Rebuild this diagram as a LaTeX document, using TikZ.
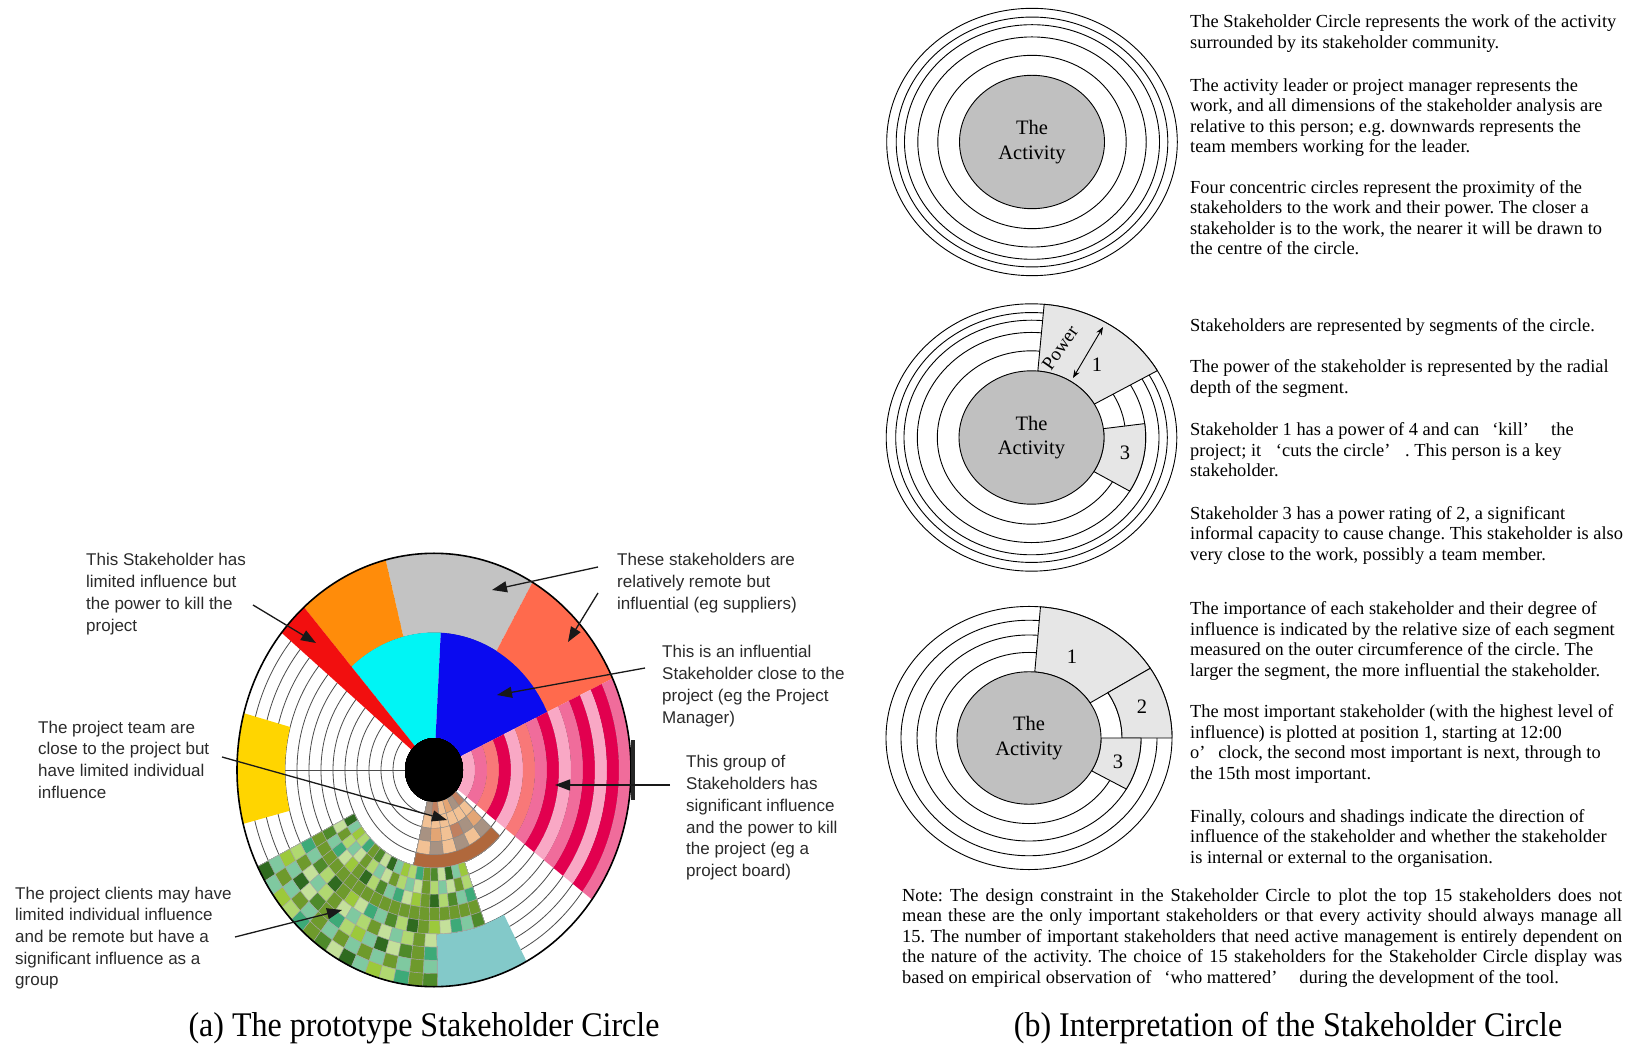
\documentclass[tikz,border=0pt]{standalone}
\usepackage{fontspec}
\usepackage{graphicx}
\setmainfont{Liberation Serif}
\newfontfamily\labelsans{Liberation Sans}
\usetikzlibrary{arrows.meta}

% wheel colours
\definecolor{wgray}{HTML}{C3C3C3}
\definecolor{worange}{HTML}{FF8C0A}
\definecolor{wred}{HTML}{F20F0F}
\definecolor{wcyan}{HTML}{00F5F5}
\definecolor{wblue}{HTML}{0A0AF0}
\definecolor{wcoral}{HTML}{FF6A4D}
\definecolor{wgold}{HTML}{FFD500}
\definecolor{wteal}{HTML}{83C9C9}
\definecolor{pkL}{HTML}{F9A8C5}
\definecolor{pkH}{HTML}{F06C9B}
\definecolor{pkS}{HTML}{F87878}
\definecolor{pkC}{HTML}{E2004F}
\definecolor{gr0}{HTML}{2F6B1F}
\definecolor{gr1}{HTML}{6E9A2C}
\definecolor{gr2}{HTML}{9CC93B}
\definecolor{gr3}{HTML}{C4E09A}
\definecolor{gr4}{HTML}{3DAA78}
\definecolor{gr5}{HTML}{7FC9A0}
\definecolor{gr6}{HTML}{4E8A2A}
\definecolor{gr7}{HTML}{B0D870}
\definecolor{br0}{HTML}{A89282}
\definecolor{br1}{HTML}{E3A574}
\definecolor{br2}{HTML}{F2C194}
\definecolor{br3}{HTML}{C08060}
\definecolor{brD}{HTML}{B0683C}
\definecolor{lbltext}{HTML}{2B2B2B}
\definecolor{segfill}{HTML}{E6E6E6}
\definecolor{actgray}{HTML}{C0C0C0}

% annular sector: options, start angle, end angle, inner radius, outer radius
\newcommand{\annsec}[5]{\path[#1] ({#2}:{#4}) arc[start angle={#2}, end angle={#3}, radius={#4}] -- ({#3}:{#5}) arc[start angle={#3}, end angle={#2}, radius={#5}] -- cycle;}
% stacked text lines, baseline at the first line
\newcommand{\lns}[1]{\begin{tabular}[t]{@{}l@{}}#1\end{tabular}}
% justified line of the note
\newcommand{\jl}[1]{\makebox[720pt][s]{#1}}

\begin{document}
\frenchspacing
\begin{tikzpicture}[x=1pt,y=1pt,
  lbl/.style={anchor=base west, inner sep=0pt, text=lbltext, font=\labelsans\fontsize{17}{21.7}\selectfont},
  para/.style={anchor=base west, inner sep=0pt, font=\fontsize{18.4}{20.5}\selectfont},
  callout/.style={draw=black!90, line width=1.3pt, -{Triangle[length=15pt,width=11pt]}},
  ringline/.style={draw=black!70, line width=0.8pt},
  ring/.style={draw=black, line width=0.9pt},
  seg/.style={fill=segfill, draw=black, line width=0.9pt},
  num/.style={inner sep=0pt, font=\fontsize{20.5}{24}\selectfont},
  actlabel/.style={align=center, inner sep=0pt, font=\fontsize{20.5}{24.5}\selectfont},
  caption/.style={inner sep=0pt, anchor=base, font=\fontsize{32}{36}\selectfont}
]
\useasboundingbox (0,0) rectangle (1633,1045);
\fill[white] (0,0) rectangle (1633,1045);

% ---------------- (a) prototype wheel ----------------
\begin{scope}[shift={(434,275)}, yscale=1.1]
  \fill[white] (0,0) circle[radius=197];
  \foreach \k in {1,...,13} \draw[ringline] (0,0) circle[radius={29+12*\k}];
  \draw[ringline] (180:29) -- (180:149);
  % solid segments
  \annsec{fill=wgray}{60}{104.2}{125}{197}
  \annsec{fill=worange}{104.2}{131.3}{125}{197}
  \annsec{fill=wcyan}{86.9}{131.3}{20}{125}
  \annsec{fill=wblue}{25}{86.9}{20}{125}
  \annsec{fill=wcoral}{25}{60}{125}{197}
  \annsec{fill=wred}{131.3}{140.7}{20}{197}
  \annsec{fill=wgold}{164.8}{194.4}{149}{197}
  \annsec{fill=wteal}{-89}{-62}{149}{197}
  % striped group
  \foreach \k/\tc in {0/pkL,1/pkH,2/pkS,3/pkC,4/pkL,5/pkS,6/pkH,7/pkC,8/pkL,9/pkH,10/pkC,11/pkL,12/pkC,13/pkH}
    \annsec{fill=\tc}{-36.7}{25}{29+12*\k}{41+12*\k}
  % brown tiled group
  \foreach \j in {0,...,3}
    \foreach \i in {0,...,5} {
      \pgfmathsetmacro\aa{-103.3+\i*61/6}
      \pgfmathsetmacro\ab{-103.3+(\i+1)*61/6}
      \pgfmathtruncatemacro\tn{mod(\i*3+\j*2+\i*\j,4)}
      \annsec{fill=br\tn, draw=black!45, line width=0.4pt}{\aa}{\ab}{29+12*\j}{41+12*\j}
    }
  \annsec{fill=brD, draw=black!45, line width=0.4pt}{-103.3}{-42.3}{77}{89}
  % green tiled group
  \foreach \j in {0,...,4}
    \foreach \i in {0,...,18} {
      \pgfmathsetmacro\aa{-153.5+\i*83.5/19}
      \pgfmathsetmacro\ab{-153.5+(\i+1)*83.5/19}
      \pgfmathtruncatemacro\tn{mod(\i*5+\j*3+\i*\j,8)}
      \annsec{fill=gr\tn, draw=black!35, line width=0.4pt}{\aa}{\ab}{89+12*\j}{101+12*\j}
    }
  \foreach \j in {5,...,8}
    \foreach \i in {0,...,14} {
      \pgfmathsetmacro\aa{-153.5+\i*64.5/15}
      \pgfmathsetmacro\ab{-153.5+(\i+1)*64.5/15}
      \pgfmathtruncatemacro\tn{mod(\i*5+\j*3+\i*\j,8)}
      \annsec{fill=gr\tn, draw=black!35, line width=0.4pt}{\aa}{\ab}{89+12*\j}{101+12*\j}
    }
  \fill[black] (0,0) circle[radius=29];
  \draw[black, line width=1.6pt] (0,0) circle[radius=197];
\end{scope}
\fill[black!85] (631,305) rectangle (634.5,245);

% callout texts
\node[lbl] (l1) at (86,479) {\lns{This Stakeholder has\\limited influence but\\the power to kill the\\project}};
\node[lbl] (l2) at (38,312) {\lns{The project team are\\close to the project but\\have limited individual\\influence}};
\node[lbl] (l3) at (15,146) {\lns{The project clients may have\\limited individual influence\\and be remote but have a\\significant influence as a\\group}};
\node[lbl] (r1) at (617,479) {\lns{These stakeholders are\\relatively remote but\\influential (eg suppliers)}};
\node[lbl] (r2) at (662,387) {\lns{This is an influential\\Stakeholder close to the\\project (eg the Project\\Manager)}};
\node[lbl] (r3) at (686,277) {\lns{This group of\\Stakeholders has\\significant influence\\and the power to kill\\the project (eg a\\project board)}};

% callout arrows
\coordinate (s1) at (253,440); \coordinate (t1) at (316,402);
\coordinate (s2) at (598,478); \coordinate (t2) at (492,455);
\coordinate (s3) at (598,452); \coordinate (t3) at (568,403);
\coordinate (s4) at (645,377); \coordinate (t4) at (497,350);
\coordinate (s5) at (670,260); \coordinate (t5) at (555,260);
\coordinate (s6) at (222,288); \coordinate (t6) at (447,225);
\coordinate (s7) at (235,108); \coordinate (t7) at (342,135);
\foreach \n in {1,...,7} \draw[callout] (s\n) -- (t\n);

\node[caption] (capa) at (424,9) {\scalebox{1}[1.08]{(a) The prototype Stakeholder Circle}};

% ---------------- (b) interpretation ----------------
% circle 1
\begin{scope}[shift={(1032,903)}, yscale=0.92]
  \foreach \r in {145.3,135.8,127.5,114.2,94.2} \draw[ring] (0,0) circle[radius=\r];
  \draw[ring, fill=actgray] (0,0) circle[radius=72.5];
\end{scope}
\node[actlabel] (act1) at (1032,903) {The\\Activity};

% circle 2
\begin{scope}[shift={(1031.5,607.5)}, yscale=0.92]
  \foreach \r in {145.3,135.8,127.5,114.2,94.2} \draw[ring] (0,0) circle[radius=\r];
  \annsec{seg}{30}{85}{72.5}{145.3}
  \annsec{seg}{-30.7}{7.6}{72.5}{114.2}
  \draw[ring, fill=actgray] (0,0) circle[radius=72.5];
\end{scope}
\node[actlabel] (act2) at (1031.5,607.5) {The\\Activity};
\coordinate (pa) at (1073,667); \coordinate (pb) at (1103,718);
\draw[{Stealth[length=8pt,width=6pt]}-{Stealth[length=8pt,width=6pt]}, line width=0.9pt] (pa) -- (pb);
\node[rotate=55, inner sep=0pt, font=\fontsize{19}{22}\selectfont] (pw) at (1060,697) {Power};
\node[num] (n21) at (1097,680) {1};
\node[num] (n23) at (1125,592) {3};

% circle 3
\begin{scope}[shift={(1029,307)}, yscale=0.92]
  \foreach \r in {143,128,112,93} \draw[ring] (0,0) circle[radius=\r];
  \annsec{seg}{32}{85.4}{72}{143}
  \annsec{seg}{0}{32}{93}{143}
  \annsec{seg}{-29.7}{0}{72}{112}
  \draw[ring, fill=actgray] (0,0) circle[radius=72];
\end{scope}
\node[actlabel] (act3) at (1029,307) {The\\Activity};
\node[num] (n31) at (1072,388) {1};
\node[num] (n32) at (1142,338) {2};
\node[num] (n33) at (1118,283) {3};

% explanatory paragraphs
\node[para] (p1) at (1190,1017) {\lns{The Stakeholder Circle represents the work of the activity\\surrounded by its stakeholder community.}};
\node[para] (p2) at (1190,953.5) {\lns{The activity leader or project manager represents the\\work, and all dimensions of the stakeholder analysis are\\relative to this person; e.g. downwards represents the\\team members working for the leader.}};
\node[para] (p3) at (1190,851.5) {\lns{Four concentric circles represent the proximity of the\\stakeholders to the work and their power. The closer a\\stakeholder is to the work, the nearer it will be drawn to\\the centre of the circle.}};
\node[para] (p4) at (1190,713) {\lns{Stakeholders are represented by segments of the circle.}};
\node[para] (p5) at (1190,672) {\lns{The power of the stakeholder is represented by the radial\\depth of the segment.}};
\node[para] (p6) at (1190,609) {\lns{Stakeholder 1 has a power of 4 and can\hspace{0.7em}‘kill’\hspace{1.2em}the\\project; it\hspace{0.8em}‘cuts the circle’\hspace{0.8em}. This person is a key\\stakeholder.}};
\node[para] (p7) at (1190,525.5) {\lns{Stakeholder 3 has a power rating of 2, a significant\\informal capacity to cause change. This stakeholder is also\\very close to the work, possibly a team member.}};
\node[para] (p8) at (1190,430) {\lns{The importance of each stakeholder and their degree of\\influence is indicated by the relative size of each segment\\measured on the outer circumference of the circle. The\\larger the segment, the more influential the stakeholder.}};
\node[para] (p9) at (1190,327) {\lns{The most important stakeholder (with the highest level of\\influence) is plotted at position 1, starting at 12:00\\o’\hspace{0.7em}clock, the second most important is next, through to\\the 15th most important.}};
\node[para] (p10) at (1190,222.5) {\lns{Finally, colours and shadings indicate the direction of\\influence of the stakeholder and whether the stakeholder\\is internal or external to the organisation.}};

\node[para] (note) at (902,144) {\lns{\jl{Note: The design constraint in the Stakeholder Circle to plot the top 15 stakeholders does not}\\\jl{mean these are the only important stakeholders or that every activity should always manage all}\\\jl{15. The number of important stakeholders that need active management is entirely dependent on}\\\jl{the nature of the activity. The choice of 15 stakeholders for the Stakeholder Circle display was}\\based on empirical observation of\hspace{0.7em}‘who mattered’\hspace{1.2em}during the development of the tool.}};

\node[caption] (capb) at (1288,9) {\scalebox{1}[1.08]{(b) Interpretation of the Stakeholder Circle}};
\end{tikzpicture}
\end{document}
